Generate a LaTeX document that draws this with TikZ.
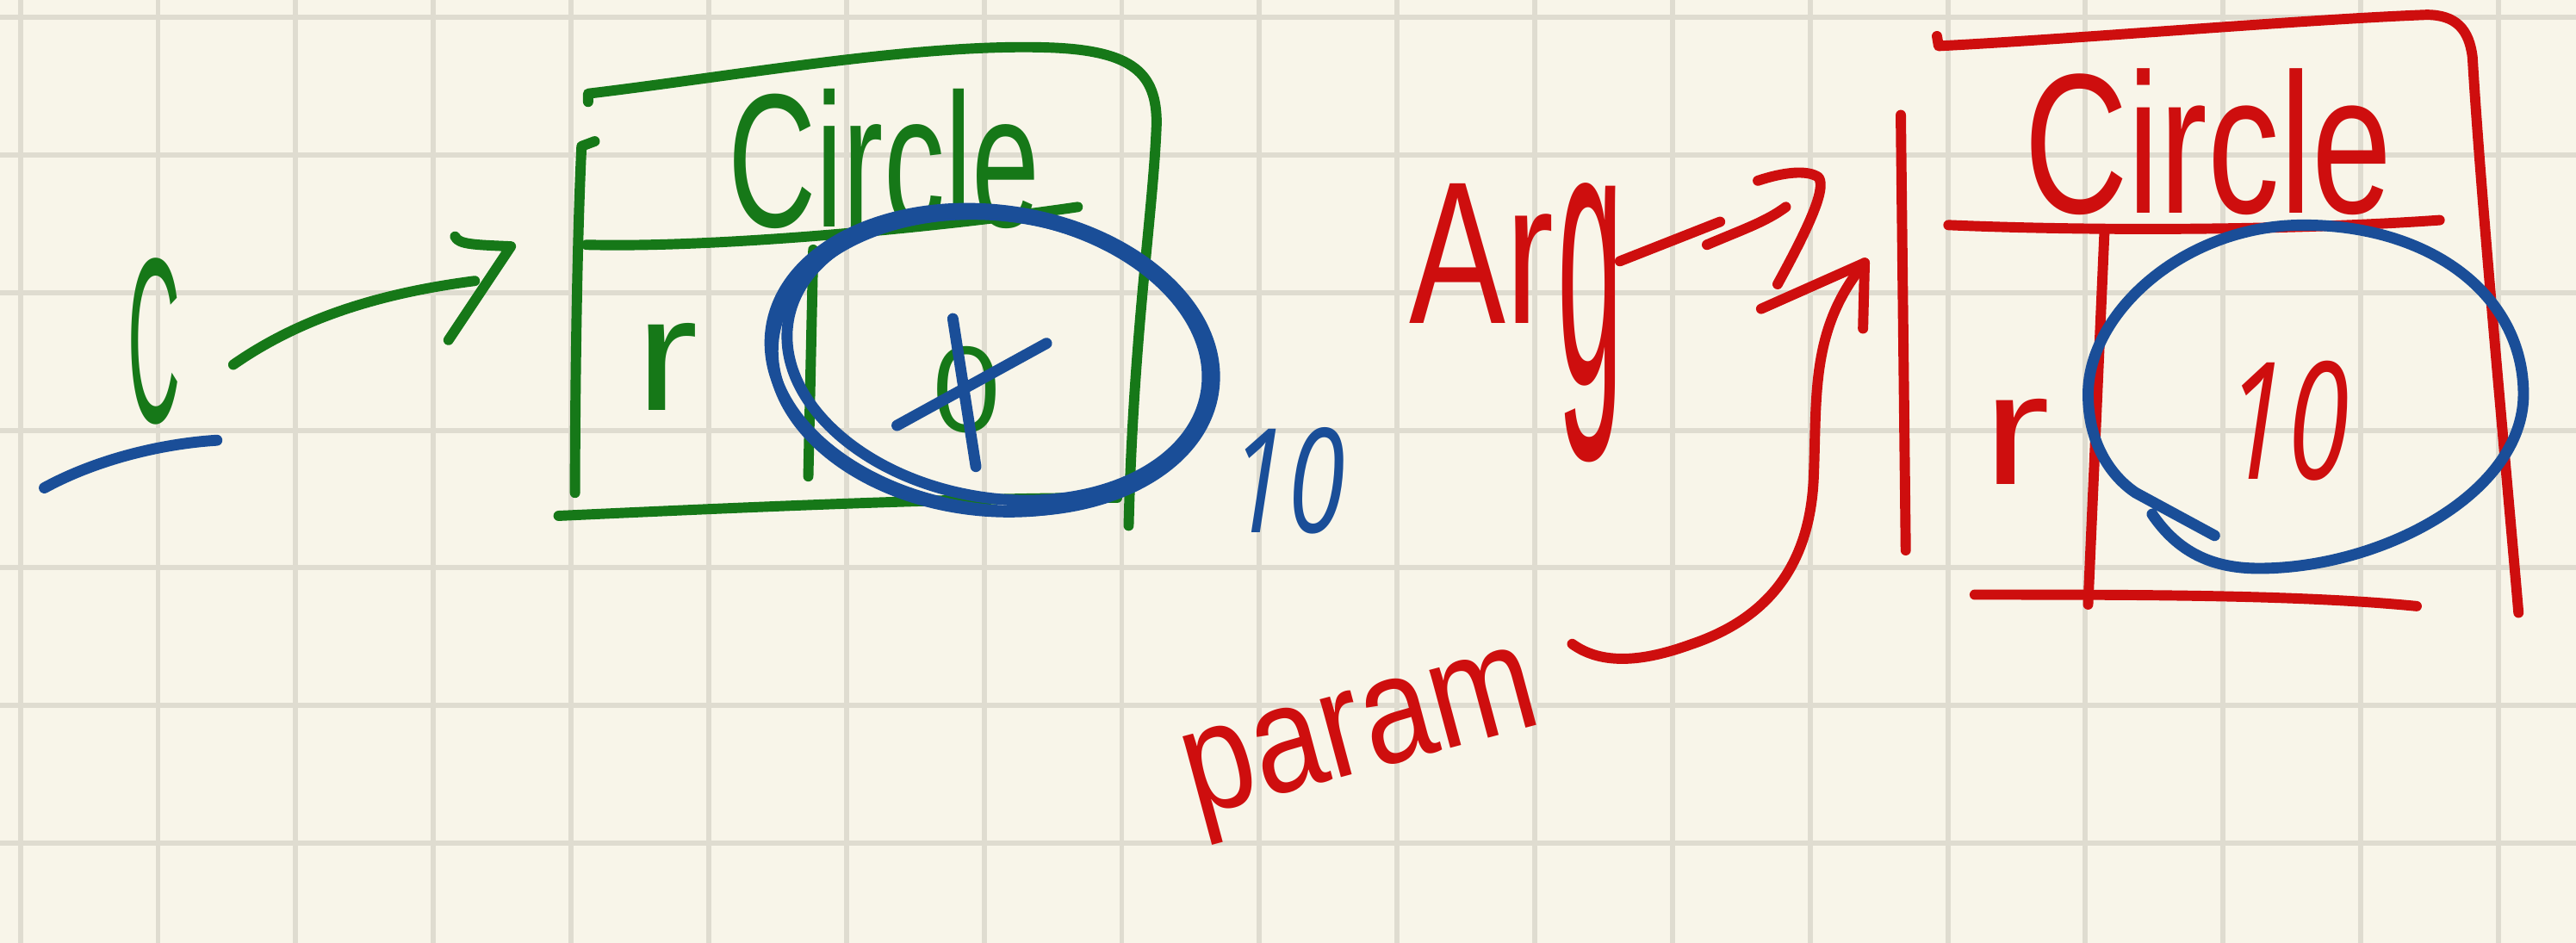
\documentclass[tikz,border=0pt]{standalone}
\usepackage{fontspec}
\usepackage{graphicx}
\newfontfamily\handfont{Liberation Sans}
\newfontfamily\digitfont{Open Sans}
% one drawing unit of the sheet
\newlength\unitpx
\setlength\unitpx{0.2mm}
% lettering squeezed into a box of given width and height (in sheet units)
\newcommand\hw[3]{\resizebox{#1\unitpx}{#2\unitpx}{\handfont #3}}
\newcommand\hwtot[3]{\resizebox*{#1\unitpx}{#2\unitpx}{\handfont #3}}

\definecolor{paper}{RGB}{248,245,233}
\definecolor{gridline}{RGB}{223,220,208}
\definecolor{inkgreen}{RGB}{22,120,24}
\definecolor{inkred}{RGB}{206,14,14}
\definecolor{inkblue}{RGB}{26,78,152}

\begin{document}
\begin{tikzpicture}[x=0.2mm,y=-0.2mm,
  ink/.style={line width=1.25mm,line cap=round,line join=round},
  green ink/.style={ink,draw=inkgreen},
  red ink/.style={ink,draw=inkred},
  blue ink/.style={ink,draw=inkblue,line width=1.35mm},
  lettering/.style={inner sep=0pt,outer sep=0pt,anchor=base west}]

% squared paper
\fill[paper] (0,0) rectangle (1568,574);
\useasboundingbox (0,0) rectangle (1568,574);
\begin{scope}
  \clip (0,0) rectangle (1568,574);
  \foreach \k in {0,...,18}
    \draw[gridline,line width=0.62mm] ({12.4+83.8*\k},0) -- ({12.4+83.8*\k},574);
  \foreach \k in {0,...,6}
    \draw[gridline,line width=0.62mm] (0,{10.5+83.8*\k}) -- (1568,{10.5+83.8*\k});
\end{scope}

% ---------- left: variable C pointing to a Circle object ----------
\node[lettering,text=inkgreen] (cvar) at (78,257) {\hw{32}{100}{C}};
\draw[blue ink] (27,297) .. controls (60,279) and (100,270) .. (132,268);

\coordinate (gaTail) at (142,222);
\coordinate (gaTip) at (289,171);
\draw[green ink] (gaTail) .. controls (185,192) and (235,178) .. (gaTip);
\draw[green ink] (277,144) .. controls (279,149) and (290,149) .. (311,150) -- (273,207);

% object box
\draw[green ink] (358,62) -- (358,57) .. controls (450,46) and (560,26) .. (640,29)
  .. controls (690,31) and (704,45) .. (704,75) .. controls (702,130) and (690,200) .. (687,320);
\draw[green ink] (362,86) -- (354,89) .. controls (351,150) and (350,250) .. (350,300);
\draw[green ink] (357,149) .. controls (430,151) and (560,140) .. (656,126);
\draw[green ink] (340,314) .. controls (450,309) and (580,303) .. (680,303);
\draw[green ink] (495,152) -- (492,290);

\node[lettering,text=inkgreen] (gTitle) at (443,138) {\hw{190}{84}{Circle}};
\node[lettering,text=inkgreen] (gR) at (387,250) {\hw{38}{53}{r}};
\node[lettering,text=inkgreen] (gVal) at (567,263) {\hw{43}{52}{\digitfont 0}};

% old value struck out and circled several times
\draw[blue ink] (580,194) -- (594,284);
\draw[blue ink] (546,259) -- (637,209);
\draw[blue ink, rotate around={-8:(604,219)}] (604,219) ellipse [x radius=136, y radius=91];
\draw[blue ink, rotate around={-10:(607,217)}] (607,217) ellipse [x radius=129, y radius=86];
\draw[blue ink, rotate around={-6:(603,221)}] (603,221) ellipse [x radius=133, y radius=90];

\node[lettering,text=inkblue] (bTen) at (749,324) {\hw{70}{64}{\digitfont\itshape 10}};

% ---------- right: argument and parameter ----------
\node[lettering,text=inkred] (arg) at (858,197)
  {\hw{88}{85}{Ar}\hspace{2\unitpx}\raisebox{-37\unitpx}{\hwtot{40}{170}{g}}};

\draw[red ink] (986,159) -- (1047,135);
\draw[red ink] (1039,149) .. controls (1060,140) and (1075,135) .. (1087,126);
\draw[red ink] (1070,110) .. controls (1085,105) and (1100,103) .. (1107,108)
  .. controls (1112,115) and (1100,140) .. (1082,173);

\node[lettering,text=inkred,rotate=15] (param) at (728,497) {\hw{220}{50}{param}};
\coordinate (paTail) at (957,392);
\coordinate (paTip) at (1135,160);
\draw[red ink] (paTail) .. controls (975,405) and (1000,403) .. (1030,392)
  .. controls (1080,375) and (1102,340) .. (1104,290)
  .. controls (1106,240) and (1102,200) .. (paTip);
\draw[red ink] (1072,188) -- (paTip) -- (1134,200);

% object box
\draw[red ink] (1157,70) -- (1160,335);
\draw[red ink] (1179,22) -- (1180,28) .. controls (1260,24) and (1400,12) .. (1477,9)
  .. controls (1495,9) and (1503,18) .. (1505,35)
  .. controls (1510,120) and (1525,280) .. (1533,373);
\draw[red ink] (1186,137) .. controls (1280,141) and (1400,140) .. (1485,134);
\draw[red ink] (1202,362) .. controls (1300,362) and (1400,362) .. (1471,369);
\draw[red ink] (1281,140) -- (1271,368);

\node[lettering,text=inkred] (rTitle) at (1232,130) {\hw{224}{88}{Circle}};
\node[lettering,text=inkred] (rR) at (1207,295) {\hw{41}{52}{r}};
\node[lettering,text=inkred] (rVal) at (1355,292) {\hw{75}{72}{\digitfont\itshape 10}};

\draw[blue ink] (1310,313) .. controls (1325,335) and (1345,346) .. (1375,346)
  .. controls (1450,346) and (1536,300) .. (1536,240)
  .. controls (1536,180) and (1480,137) .. (1402,137)
  .. controls (1330,137) and (1271,190) .. (1271,240)
  .. controls (1271,270) and (1285,290) .. (1300,300) -- (1348,326);
\end{tikzpicture}
\end{document}
